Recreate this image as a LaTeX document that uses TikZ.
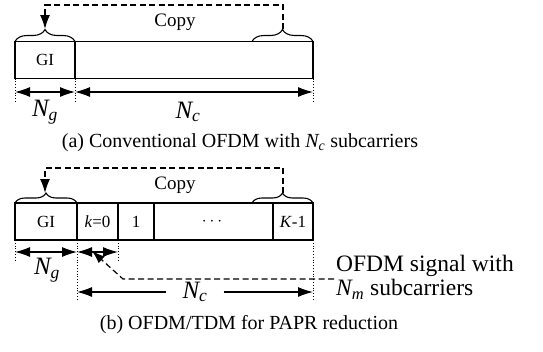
\documentclass[tikz,border=0pt]{standalone}
\usepackage{amsmath}
\usepackage{fontspec}
\setmainfont{Liberation Serif}
\usetikzlibrary{arrows.meta,decorations.pathreplacing,positioning}
\tikzset{
  cell/.style={draw, line width=1.1pt, minimum height=37pt, inner sep=0pt,
    outer sep=0pt, anchor=west, font=\fontsize{17}{19}\selectfont},
  brc/.style={decorate, decoration={brace, amplitude=#1}, line width=1.1pt},
  brc/.default=10pt,
  copyline/.style={line width=1.4pt, dash pattern=on 6pt off 3.5pt,
    -{Latex[length=14pt,width=10pt]}},
  dimline/.style={line width=1.1pt,
    {Latex[length=15pt,width=10pt]}-{Latex[length=15pt,width=10pt]}},
  onearrow/.style={line width=1.1pt, -{Latex[length=15pt,width=10pt]}},
  noteline/.style={line width=1.2pt, dash pattern=on 6pt off 3.5pt,
    -{Latex[length=13pt,width=9pt]}},
  guide/.style={line width=0.8pt, dotted},
  copytext/.style={font=\fontsize{19}{21}\selectfont},
  lbl/.style={font=\fontsize{25}{27}\selectfont},
  captext/.style={font=\fontsize{20}{22}\selectfont},
  notetext/.style={font=\fontsize{23.5}{24}\selectfont},
}
\begin{document}
\begin{tikzpicture}[x=1pt,y=-1pt]
\useasboundingbox (0,0) rectangle (543,351);
%(a) Conventional OFDM
  %symbol
  \node[cell, minimum width=60pt] (gia) at (15,60) {GI};
  \node[cell, minimum width=238pt, right=0pt of gia] (syma) {};
  \node[copytext] (copya) at (175,22) {Copy};
  %guard interval copy
  \draw[brc=12pt] (gia.north west) -- (gia.north east);
  \draw[brc=12pt] ([xshift=-61pt]syma.north east) -- (syma.north east);
  \coordinate (srca) at (283,29);
  \coordinate (dsta) at (45,29);
  \draw[copyline] (srca) -- ++(0,-24) -| (dsta);
  %lengths
  \coordinate (dima) at (0,92);
  \draw[guide] (gia.south west) -- ++(0,23);
  \draw[guide] (gia.south east) -- ++(0,23);
  \draw[guide] (syma.south east) -- ++(0,23);
  \draw[dimline] (gia.south west |- dima) -- (gia.south east |- dima);
  \draw[dimline] (syma.south west |- dima) -- (syma.south east |- dima);
  \node[lbl] (nga) at (45,112) {$\textit{N}_{\textit{g}}$};
  \node[lbl] (nca) at (188,112) {$\textit{N}_{\textit{c}}$};
  \node[captext] (capa) at (240,143) {(a) Conventional OFDM with $\textit{N}_{\textit{c}}$ subcarriers};
%(b) OFDM/TDM
  %symbol
  \node[cell, minimum width=62pt] (gib) at (15,221.5) {GI};
  \node[cell, minimum width=41pt, right=0pt of gib] (k0) {\textit{k}=0};
  \node[cell, minimum width=36pt, right=0pt of k0] (k1) {1};
  \node[cell, minimum width=119pt, right=0pt of k1] (kdots) {$\cdots$};
  \node[cell, minimum width=40pt, right=0pt of kdots] (klast) {\textit{K}-1};
  \node[copytext] (copyb) at (175,185) {Copy};
  %guard interval copy
  \draw[brc] (gib.north west) -- (gib.north east);
  \draw[brc] ([xshift=-61pt]klast.north east) -- (klast.north east);
  \coordinate (srcb) at (283,193);
  \coordinate (dstb) at (45,193);
  \draw[copyline] (srcb) -- ++(0,-25) -| (dstb);
  %lengths
  \coordinate (dimb) at (0,252);
  \draw[guide] (gib.south west) -- ++(0,22);
  \draw[guide] (k0.south west) -- ++(0,60);
  \draw[guide] (k0.south east) -- ++(0,22);
  \draw[guide] (klast.south east) -- ++(0,60);
  \draw[dimline] (gib.south west |- dimb) -- (gib.south east |- dimb);
  \draw[dimline] (k0.south west |- dimb) -- (k0.south east |- dimb);
  \node[lbl] (ngb) at (47,270) {$\textit{N}_{\textit{g}}$};
  \node[lbl, inner xsep=16pt] (ncb) at (195,292) {$\textit{N}_{\textit{c}}$};
  \draw[onearrow] (ncb.west) -- (k0.south west |- ncb);
  \draw[onearrow] (ncb.east) -- (klast.south east |- ncb);
  %sub-symbol note
  \node[notetext, anchor=west, align=left, inner sep=2pt] (sig) at (334,277)
    {OFDM signal with\\$\textit{N}_{\textit{m}}$ subcarriers};
  \coordinate (bend) at (123,279);
  \coordinate (kdim) at (92,251);
  \draw[noteline] (sig.west |- bend) -- (bend) -- (kdim);
  \node[captext] (capb) at (249,325) {(b) OFDM/TDM for PAPR reduction};
\end{tikzpicture}
\end{document}
